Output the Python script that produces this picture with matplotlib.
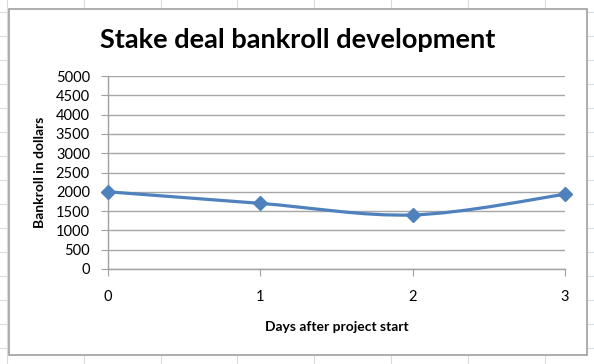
import matplotlib.pyplot as plt
import numpy as np
from matplotlib.path import Path
from matplotlib.patches import PathPatch, Rectangle
from matplotlib.lines import Line2D

# Chart data
days = [0, 1, 2, 3]
bankroll = [2000, 1700, 1400, 1935]
y_ticks = list(range(0, 5001, 500))

TITLE = "Stake deal bankroll development"
X_LABEL = "Days after project start"
Y_LABEL = "Bankroll in dollars"

LINE_COLOR = "#4F81BD"
GRID_COLOR = "#A6A6A6"
SHEET_COLOR = "#D5DBE7"

plt.rcParams['font.family'] = ['Lato', 'DejaVu Sans']

W, H = 594, 364
fig = plt.figure(figsize=(W / 100, H / 100), dpi=100)

# Spreadsheet cell grid behind the chart
for x in np.arange(7, W, 76.8):
    fig.add_artist(Line2D([x / W, x / W], [0, 1], color=SHEET_COLOR,
                          lw=0.8, zorder=-3))
for y in np.arange(12, H, 24):
    fig.add_artist(Line2D([0, 1], [1 - y / H, 1 - y / H], color=SHEET_COLOR,
                          lw=0.8, zorder=-3))

# Chart frame
fig.add_artist(Rectangle((9 / W, 1 - 355 / H), 578 / W, 346 / H,
                         facecolor="white", edgecolor="#A0A0A0", lw=1.2,
                         zorder=-2))

# Plot area
ax = fig.add_axes([108 / W, 1 - 269 / H, 457 / W, 193 / H])
ax.set_facecolor("none")

# Smoothed line (Catmull-Rom style Bezier, like Excel's smoothing)
pts = np.column_stack([days, bankroll]).astype(float)
verts = [pts[0]]
codes = [Path.MOVETO]
n = len(pts)
for i in range(n - 1):
    p0 = pts[max(i - 1, 0)]
    p1 = pts[i]
    p2 = pts[i + 1]
    p3 = pts[min(i + 2, n - 1)]
    c1 = p1 + (p2 - p0) / 6
    c2 = p2 - (p3 - p1) / 6
    verts += [c1, c2, p2]
    codes += [Path.CURVE4] * 3
ax.add_patch(PathPatch(Path(verts, codes), facecolor="none",
                       edgecolor=LINE_COLOR, lw=2.3, zorder=3))
ax.plot(days, bankroll, linestyle="none", marker="D", markersize=7.5,
        color=LINE_COLOR, zorder=4, clip_on=False)

ax.set_xlim(0, 3)
ax.set_ylim(0, 5000)
ax.set_yticks(y_ticks)
ax.set_xticks(days)
ax.yaxis.grid(True, color=GRID_COLOR, lw=1)
ax.set_axisbelow(True)

for side in ["top", "right"]:
    ax.spines[side].set_visible(False)
for side in ["left", "bottom"]:
    ax.spines[side].set_color("#A0A0A0")
    ax.spines[side].set_linewidth(1)

ax.tick_params(axis="both", direction="out", length=5, color="#A0A0A0",
               labelsize=10.5, labelcolor="black")
ax.tick_params(axis="y", pad=8)
ax.tick_params(axis="x", pad=10)

ax.set_xlabel(X_LABEL, fontsize=10, fontweight="bold", va="center")
ax.set_ylabel(Y_LABEL, fontsize=10, fontweight="bold", va="center")
ax.xaxis.set_label_coords(0.5, -(327 - 269) / 193)
ax.yaxis.set_label_coords(-(108 - 40) / 457, 0.5)

fig.text(298 / W, 1 - 40 / H, TITLE, ha="center", va="center",
         fontsize=19.5, fontweight="bold")

fig.savefig("out.png", dpi=100)
